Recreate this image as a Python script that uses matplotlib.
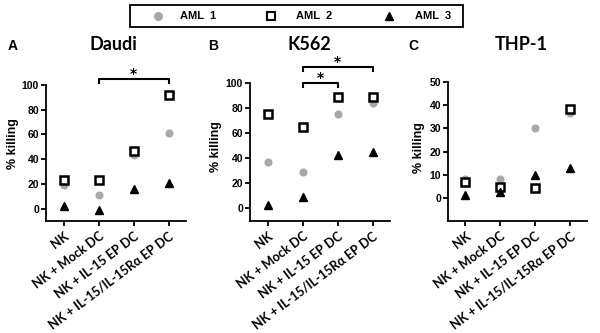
import numpy as np
import matplotlib.pyplot as plt
from matplotlib.lines import Line2D
from matplotlib.patches import Rectangle

categories = ["NK", "NK + Mock DC", "NK + IL-15 EP DC", "NK + IL-15/IL-15R\u03b1 EP DC"]
panels = ["Daudi", "K562", "THP-1"]
letters = ["A", "B", "C"]
legend_labels = ["AML  1", "AML  2", "AML  3"]

# % killing
daudi_aml1 = [19, 11, 43, 61]
daudi_aml2 = [23, 23, 47, 92]
daudi_aml3 = [2.4, -1, 16, 20.5]

k562_aml1 = [37, 29, 75, 84]
k562_aml2 = [75, 65, 89, 88.5]
k562_aml3 = [3, 9, 43, 45]

thp1_aml1 = [8.3, 8.3, 30.2, 36.8]
thp1_aml2 = [6.9, 4.5, 4.3, 38.5]
thp1_aml3 = [1.4, 2.6, 9.8, 12.9]

series = [
    (daudi_aml1, daudi_aml2, daudi_aml3),
    (k562_aml1, k562_aml2, k562_aml3),
    (thp1_aml1, thp1_aml2, thp1_aml3),
]
ylims = [(-10, 100), (-10, 100), (-10, 50)]
yticks = [np.arange(0, 101, 20), np.arange(0, 101, 20), np.arange(0, 51, 10)]

# significance brackets: (panel, x1, x2, y, drop)
brackets = [(0, 1, 3, 104.8, 3.2), (1, 1, 3, 112.8, 3.2), (1, 1, 2, 100.0, 3.2)]

grey = "#a8a8a8"
cat_font = "Lato"

fig = plt.figure(figsize=(6, 3.33), dpi=100)
W, H = 600, 333
boxes = [
    [46 / W, 1 - 221 / H, 140 / W, 136 / H],
    [250 / W, 1 - 221 / H, 140 / W, 138 / H],
    [448 / W, 1 - 221 / H, 139 / W, 139 / H],
]
ylab_pos = [(-0.193, 0.57), (-0.2, 0.54), (-0.165, 0.53)]

x = np.arange(len(categories))
axes = []
for i, (a1, a2, a3) in enumerate(series):
    ax = fig.add_axes(boxes[i])
    axes.append(ax)
    ax.plot(x, a1, "o", color=grey, ms=4.8, mec=grey, zorder=3)
    ax.plot(x, a2, "s", mfc="white", mec="black", mew=1.8, ms=5.6, zorder=4)
    ax.plot(x, a3, "^", color="black", ms=5.2, zorder=5)
    ax.set_xlim(-0.5, 3.5)
    ax.set_ylim(*ylims[i])
    ax.set_yticks(yticks[i])
    ax.set_xticks(x)
    ax.set_xticklabels(categories, rotation=37, ha="right", va="top", rotation_mode="anchor",
                       fontsize=9.1, fontweight="bold", family=cat_font)
    for lab in ax.get_yticklabels():
        lab.set_fontweight("bold")
        lab.set_family("Liberation Sans")
        lab.set_fontsize(7.5)
    ax.spines["top"].set_visible(False)
    ax.spines["right"].set_visible(False)
    for s in ["left", "bottom"]:
        ax.spines[s].set_linewidth(1.3)
    ax.tick_params(width=1.3, length=3.5, direction="out", pad=1.5)
    ax.tick_params(axis="x", pad=3)
    ax.set_ylabel("% killing", fontsize=9, fontweight="bold", family="Liberation Sans")
    ax.yaxis.set_label_coords(*ylab_pos[i])

for p, x1, x2, y, d in brackets:
    ax = axes[p]
    ax.plot([x1, x1, x2, x2], [y - d, y, y, y - d], color="black", lw=1.5, clip_on=False)
    ax.text((x1 + x2) / 2, y + 0.5, "*", ha="center", va="baseline", fontsize=10,
            fontweight="bold", clip_on=False)

title_x = [113, 309, 521]
letter_x = [13, 213, 413]
for i in range(3):
    fig.text(title_x[i] / W, 1 - 45 / H, panels[i], ha="center", va="center",
             fontsize=13, fontweight="bold", family=cat_font)
    fig.text(letter_x[i] / W, 1 - 46 / H, letters[i], ha="center", va="center",
             fontsize=10, fontweight="bold", family="Liberation Sans")

# legend box drawn by hand to match the spacing of the original
fig.add_artist(Rectangle((130 / W, 1 - 27 / H), 333 / W, 22 / H, transform=fig.transFigure,
                         fill=False, edgecolor="black", lw=1.3))
leg_y = 1 - 16 / H
marker_x = [158, 271, 389]
text_x = [180, 296, 415]
marker_styles = [
    dict(marker="o", color=grey, mec=grey, ms=5.5),
    dict(marker="s", mfc="white", mec="black", mew=1.5, ms=5.5),
    dict(marker="^", color="black", ms=6),
]
for mx, tx, lab, st in zip(marker_x, text_x, legend_labels, marker_styles):
    fig.add_artist(Line2D([mx / W], [leg_y], ls="", transform=fig.transFigure, **st))
    fig.text(tx / W, leg_y, lab, ha="left", va="center", fontsize=8, fontweight="bold",
             family="Liberation Sans")

fig.savefig("out.png", dpi=100)
